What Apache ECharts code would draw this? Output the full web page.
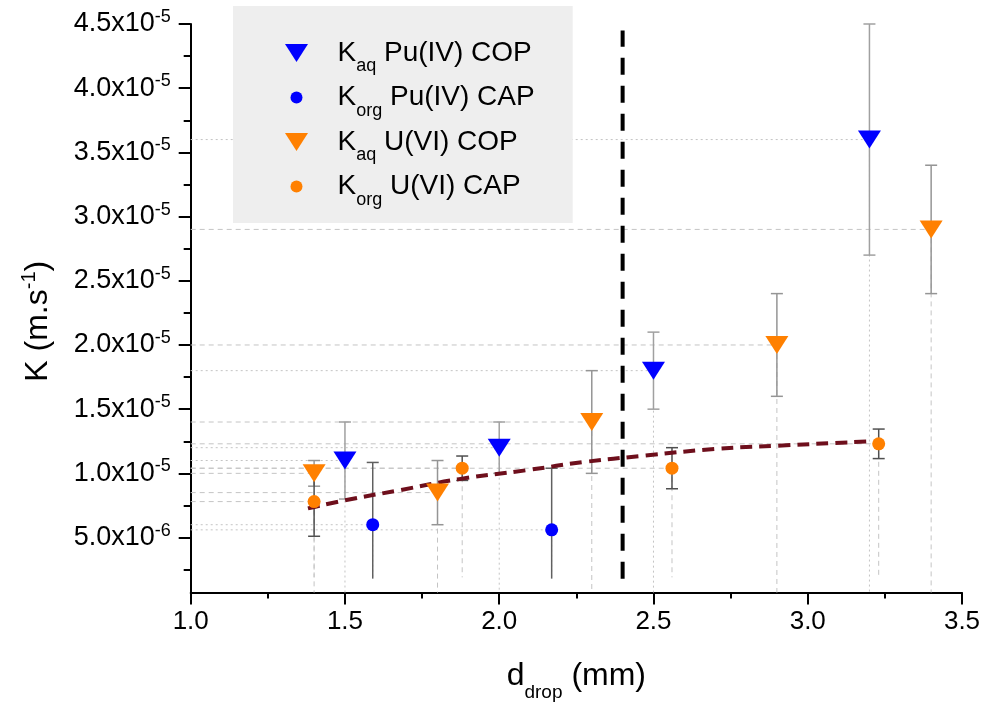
<!DOCTYPE html>
<html>
<head>
<meta charset="utf-8">
<script src="https://cdn.jsdelivr.net/npm/echarts@6/dist/echarts.min.js"></script>
<style>html,body{margin:0;padding:0;background:#fff}#c{width:985px;height:702px}</style>
</head>
<body>
<div id="c"></div>
<script>
// ---- data (K in m/s, d in mm) ----
const puCopX = [1.5, 2.0, 2.5, 3.2];
const puCopK = [1.1e-5, 1.2e-5, 1.8e-5, 3.6e-5];
const puCopErr = [0.3e-5, 0.2e-5, 0.3e-5, 0.9e-5];

const puCapX = [1.59, 2.17];
const puCapK = [0.6e-5, 0.56e-5];
const puCapLow = [0.18e-5, 0.18e-5];
const puCapHigh = [1.085e-5, 1.04e-5];

const uCopX = [1.4, 1.8, 2.3, 2.9, 3.4];
const uCopK = [1.0e-5, 0.85e-5, 1.4e-5, 2.0e-5, 2.9e-5];
const uCopErr = [0.1e-5, 0.25e-5, 0.4e-5, 0.4e-5, 0.5e-5];

const uCapX = [1.4, 1.88, 2.56, 3.23];
const uCapK = [0.78e-5, 1.04e-5, 1.04e-5, 1.23e-5];
const uCapErr = [0.27e-5, 0.095e-5, 0.16e-5, 0.115e-5];

const fitX = [1.38, 1.5, 1.68, 1.87, 2.09, 2.28, 2.46, 2.7, 2.9, 3.21];
const fitK = [0.727e-5, 0.79e-5, 0.87e-5, 0.955e-5, 1.025e-5, 1.09e-5, 1.135e-5, 1.19e-5, 1.215e-5, 1.25e-5];

const limitX = [2.4, 2.4];
const limitK = [0.18e-5, 4.45e-5];

const xMin = 1.0, xMax = 3.5, xStep = 0.5;
const yMin = 0.072e-5, yMax = 4.5e-5;
const yTickValues = [0.5e-5, 1.0e-5, 1.5e-5, 2.0e-5, 2.5e-5, 3.0e-5, 3.5e-5, 4.0e-5, 4.5e-5];
const yMinorValues = [0.25e-5, 0.75e-5, 1.25e-5, 1.75e-5, 2.25e-5, 2.75e-5, 3.25e-5, 3.75e-5, 4.25e-5];
const capDropEnd = 0.19e-5;

const names = ['Kaq Pu(IV) COP', 'Korg Pu(IV) CAP', 'Kaq U(VI) COP', 'Korg U(VI) CAP'];
const legendRich = {
  'Kaq Pu(IV) COP': '{m|K}{s|aq}{m| Pu(IV) COP}',
  'Korg Pu(IV) CAP': '{m|K}{s|org}{m| Pu(IV) CAP}',
  'Kaq U(VI) COP': '{m|K}{s|aq}{m| U(VI) COP}',
  'Korg U(VI) CAP': '{m|K}{s|org}{m| U(VI) CAP}'
};

// ---- helpers ----
const FONT = 'Liberation Sans, Arial, sans-serif';
const BLUE = '#0000ff', ORANGE = '#ff8000';
const TRI = 'path://M0,0 L23,0 L11.5,18 Z';
const DOT = 'path://M0,0 M23,18 M5.5,9 A6,6 0 1 1 17.5,9 A6,6 0 1 1 5.5,9 Z';

function zip(xs, ys) { return xs.map((x, i) => [x, ys[i]]); }

function errRender(color, capLow) {
  return function (params, api) {
    const x = api.value(0), lo = api.value(1), hi = api.value(2);
    const a = api.coord([x, hi]), b = api.coord([x, lo]);
    const w = 6;
    const st = { stroke: color, lineWidth: 1.5 };
    const ch = [
      { type: 'line', shape: { x1: a[0], y1: a[1], x2: b[0], y2: b[1] }, style: st },
      { type: 'line', shape: { x1: a[0] - w, y1: a[1], x2: a[0] + w, y2: a[1] }, style: st }
    ];
    if (capLow) ch.push({ type: 'line', shape: { x1: b[0] - w, y1: b[1], x2: b[0] + w, y2: b[1] }, style: st });
    return { type: 'group', children: ch };
  };
}

function dropRender(dash) {
  return function (params, api) {
    const x = api.value(0), y = api.value(1), yEnd = api.value(2);
    const p = api.coord([x, y]);
    const l = api.coord([xMin, y]);
    const d = api.coord([x, yEnd]);
    const st = { stroke: '#c4c4c4', lineWidth: 1, lineDash: dash };
    return {
      type: 'group', children: [
        { type: 'line', shape: { x1: l[0], y1: l[1], x2: p[0], y2: p[1] }, style: st },
        { type: 'line', shape: { x1: p[0], y1: p[1], x2: d[0], y2: d[1] }, style: st }
      ]
    };
  };
}

function fmtY(v) {
  const e = Math.floor(Math.log10(v) + 1e-9);
  const m = (v / Math.pow(10, e)).toFixed(1);
  return '{a|' + m + 'x10}{s|' + e + '}';
}

const dots = [2, 3], dashes = [5, 4];

const option = {
  animation: false,
  backgroundColor: '#ffffff',
  textStyle: { fontFamily: FONT },
  grid: { left: 190.7, right: 23, top: 24, bottom: 109.5, containLabel: false, outerBoundsMode: 'none' },
  legend: {
    left: 233, top: 6,
    orient: 'vertical',
    backgroundColor: '#eeeeee',
    borderWidth: 0,
    padding: [33, 38, 14, 52],
    itemWidth: 72, itemHeight: 18, itemGap: 8,
    selectedMode: false,
    data: [
      { name: names[0], icon: TRI, itemStyle: { color: BLUE } },
      { name: names[1], icon: DOT, itemStyle: { color: BLUE } },
      { name: names[2], icon: TRI, itemStyle: { color: ORANGE } },
      { name: names[3], icon: DOT, itemStyle: { color: ORANGE } }
    ],
    formatter: n => legendRich[n],
    textStyle: {
      color: '#000', fontFamily: FONT,
      rich: {
        m: { fontSize: 28, lineHeight: 30, color: '#000', fontFamily: FONT },
        s: { fontSize: 18, height: 3, lineHeight: 3, verticalAlign: 'bottom', color: '#000', fontFamily: FONT }
      }
    }
  },
  xAxis: {
    type: 'value', min: xMin, max: xMax, interval: xStep,
    name: '{a|d}{s|drop}{a| (mm)}',
    nameLocation: 'middle', nameGap: 67,
    nameTextStyle: {
      rich: {
        a: { fontSize: 32, lineHeight: 34, color: '#000', fontFamily: FONT },
        s: { fontSize: 19, height: 2, lineHeight: 2, verticalAlign: 'bottom', color: '#000', fontFamily: FONT }
      }
    },
    axisLine: { lineStyle: { color: '#000', width: 2 } },
    axisTick: { inside: false, length: 12, lineStyle: { color: '#000', width: 2 } },
    minorTick: { show: true, splitNumber: 2, length: 6, lineStyle: { color: '#000', width: 2 } },
    axisLabel: { fontSize: 26, color: '#000', margin: 16, fontFamily: FONT, formatter: v => v.toFixed(1) },
    splitLine: { show: false }, minorSplitLine: { show: false }
  },
  yAxis: [{
    type: 'value', min: yMin, max: yMax,
    name: '{a|K (m.s}{s|-1}{a|)}',
    nameLocation: 'middle', nameGap: 135,
    nameTextStyle: {
      padding: [0, 26, 0, 0],
      rich: {
        a: { fontSize: 32, lineHeight: 36, color: '#000', fontFamily: FONT },
        s: { fontSize: 20, height: 20, lineHeight: 20, verticalAlign: 'top', color: '#000', fontFamily: FONT }
      }
    },
    axisLine: { show: true, lineStyle: { color: '#000', width: 2 } },
    axisTick: { show: true, customValues: yTickValues, length: 12, lineStyle: { color: '#000', width: 2 } },
    axisLabel: {
      show: true, customValues: yTickValues, margin: 20, formatter: fmtY,
      rich: {
        a: { fontSize: 27, lineHeight: 30, color: '#000', fontFamily: FONT },
        s: { fontSize: 18, height: 16, lineHeight: 16, verticalAlign: 'top', color: '#000', fontFamily: FONT }
      }
    },
    splitLine: { show: false }
  }, {
    type: 'value', min: yMin, max: yMax, position: 'left',
    axisLine: { show: false },
    axisTick: { show: true, customValues: yMinorValues, length: 7, lineStyle: { color: '#000', width: 2 } },
    axisLabel: { show: false },
    splitLine: { show: false }
  }],
  series: [
    // drop lines
    { type: 'custom', name: 'drop1', z: 1, silent: true, renderItem: dropRender(dots),
      encode: { x: 0, y: 1 }, data: puCopX.map((x, i) => [x, puCopK[i], yMin]) },
    { type: 'custom', name: 'drop2', z: 1, silent: true, renderItem: dropRender(dots),
      encode: { x: 0, y: 1 }, data: puCapX.map((x, i) => [x, puCapK[i], capDropEnd]) },
    { type: 'custom', name: 'drop3', z: 1, silent: true, renderItem: dropRender(dashes),
      encode: { x: 0, y: 1 }, data: uCopX.map((x, i) => [x, uCopK[i], yMin]) },
    { type: 'custom', name: 'drop4', z: 1, silent: true, renderItem: dropRender(dashes),
      encode: { x: 0, y: 1 }, data: uCapX.map((x, i) => [x, uCapK[i], capDropEnd]) },
    // error bars
    { type: 'custom', name: 'err1', z: 2, silent: true, renderItem: errRender('#a0a0a0', true),
      encode: { x: 0, y: [1, 2] }, data: puCopX.map((x, i) => [x, puCopK[i] - puCopErr[i], puCopK[i] + puCopErr[i]]) },
    { type: 'custom', name: 'err2', z: 2, silent: true, renderItem: errRender('#606060', false),
      encode: { x: 0, y: [1, 2] }, data: puCapX.map((x, i) => [x, puCapLow[i], puCapHigh[i]]) },
    { type: 'custom', name: 'err3', z: 2, silent: true, renderItem: errRender('#959595', true),
      encode: { x: 0, y: [1, 2] }, data: uCopX.map((x, i) => [x, uCopK[i] - uCopErr[i], uCopK[i] + uCopErr[i]]) },
    { type: 'custom', name: 'err4', z: 2, silent: true, renderItem: errRender('#505050', true),
      encode: { x: 0, y: [1, 2] }, data: uCapX.map((x, i) => [x, uCapK[i] - uCapErr[i], uCapK[i] + uCapErr[i]]) },
    // fit curve
    { type: 'line', name: 'fit', z: 3, smooth: true, symbol: 'none', silent: true,
      lineStyle: { color: '#6e0f1c', width: 4, type: [12, 7] }, data: zip(fitX, fitK) },
    // vertical limit
    { type: 'line', name: 'limit', z: 3, symbol: 'none', silent: true,
      lineStyle: { color: '#000', width: 4, type: [17, 11] }, data: zip(limitX, limitK) },
    // points
    { type: 'scatter', name: names[0], z: 4, symbol: TRI, symbolSize: [23, 18],
      itemStyle: { color: BLUE, opacity: 1 }, data: zip(puCopX, puCopK) },
    { type: 'scatter', name: names[1], z: 4, symbol: 'circle', symbolSize: 13,
      itemStyle: { color: BLUE, opacity: 1 }, data: zip(puCapX, puCapK) },
    { type: 'scatter', name: names[2], z: 4, symbol: TRI, symbolSize: [23, 18],
      itemStyle: { color: ORANGE, opacity: 1 }, data: zip(uCopX, uCopK) },
    { type: 'scatter', name: names[3], z: 4, symbol: 'circle', symbolSize: 13,
      itemStyle: { color: ORANGE, opacity: 1 }, data: zip(uCapX, uCapK) }
  ]
};

const chart = echarts.init(document.getElementById('c'), null, { renderer: 'canvas' });
chart.setOption(option);
</script>
</body>
</html>
